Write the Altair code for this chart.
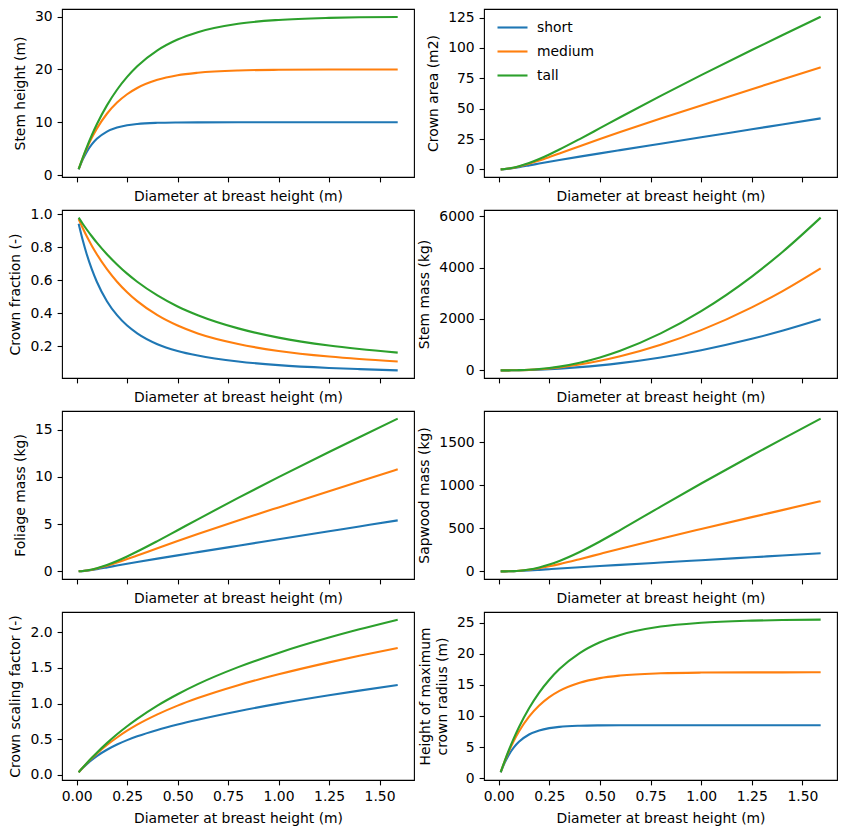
import altair as alt
import pandas as pd

# Diameter at breast height (m) sample points
dbh = [0.01, 0.03, 0.05, 0.075, 0.1, 0.15, 0.2, 0.25, 0.3, 0.4, 0.5, 0.6, 0.8, 1.0, 1.25, 1.4, 1.59]
pfts = ["short", "medium", "tall"]
colors = ["#1f77b4", "#ff7f0e", "#2ca02c"]
x_ticks = [0.0, 0.25, 0.5, 0.75, 1.0, 1.25, 1.5]
x_title = "Diameter at breast height (m)"

stem_height_short = [1.095, 2.939, 4.401, 5.810, 6.865, 8.245, 9.017, 9.450, 9.692, 9.903, 9.970, 9.990, 9.999, 10.0, 10.0, 10.0, 10.0]
stem_height_medium = [1.127, 3.194, 5.034, 7.054, 8.802, 11.62, 13.73, 15.31, 16.49, 18.03, 18.90, 19.38, 19.81, 19.94, 19.99, 19.99, 20.0]
stem_height_tall = [1.138, 3.286, 5.274, 7.552, 9.621, 13.20, 16.16, 18.59, 20.60, 23.61, 25.66, 27.05, 28.64, 29.37, 29.76, 29.87, 29.94]

crown_area_short = [0.029, 0.233, 0.582, 1.152, 1.815, 3.269, 4.767, 6.245, 7.686, 10.47, 13.18, 15.85, 21.15, 26.44, 33.04, 37.01, 42.03]
crown_area_medium = [0.030, 0.253, 0.665, 1.399, 2.327, 4.608, 7.259, 10.12, 13.08, 19.07, 24.98, 30.74, 41.89, 52.71, 66.05, 73.98, 84.06]
crown_area_tall = [0.030, 0.261, 0.697, 1.497, 2.543, 5.234, 8.544, 12.29, 16.34, 24.97, 33.92, 42.90, 60.57, 77.64, 98.34, 110.5, 125.8]

crown_fraction_short = [0.944, 0.845, 0.759, 0.668, 0.592, 0.474, 0.389, 0.326, 0.279, 0.213, 0.172, 0.144, 0.108, 0.086, 0.069, 0.062, 0.054]
crown_fraction_medium = [0.972, 0.918, 0.868, 0.811, 0.759, 0.668, 0.592, 0.528, 0.474, 0.389, 0.326, 0.278, 0.214, 0.172, 0.138, 0.123, 0.108]
crown_fraction_tall = [0.981, 0.944, 0.909, 0.868, 0.829, 0.759, 0.697, 0.641, 0.592, 0.509, 0.442, 0.389, 0.309, 0.253, 0.205, 0.184, 0.162]

stem_mass_short = [0.009, 0.208, 0.864, 2.567, 5.392, 14.57, 28.33, 46.39, 68.51, 124.4, 195.8, 282.5, 502.6, 785.4, 1227, 1539, 1986]
stem_mass_medium = [0.009, 0.226, 0.988, 3.116, 6.913, 20.53, 43.13, 75.15, 116.6, 226.6, 371.1, 547.9, 995.7, 1566, 2453, 3077, 3971]
stem_mass_tall = [0.009, 0.232, 1.036, 3.336, 7.556, 23.33, 50.77, 91.25, 145.6, 296.7, 503.8, 764.8, 1440, 2307, 3652, 4598, 5945]

foliage_mass_short = [0.004, 0.030, 0.075, 0.148, 0.233, 0.420, 0.613, 0.803, 0.988, 1.346, 1.694, 2.037, 2.719, 3.399, 4.249, 4.758, 5.404]
foliage_mass_medium = [0.004, 0.033, 0.086, 0.180, 0.299, 0.592, 0.933, 1.301, 1.681, 2.451, 3.212, 3.952, 5.386, 6.777, 8.493, 9.512, 10.81]
foliage_mass_tall = [0.004, 0.034, 0.090, 0.193, 0.327, 0.673, 1.099, 1.580, 2.101, 3.210, 4.361, 5.516, 7.787, 9.982, 12.64, 14.21, 16.18]

sapwood_mass_short = [0.009, 0.203, 0.814, 2.284, 4.494, 10.54, 17.74, 25.31, 32.85, 47.45, 61.52, 75.27, 102.5, 129.6, 163.4, 183.8, 209.5]
sapwood_mass_medium = [0.009, 0.224, 0.971, 3.005, 6.511, 18.27, 35.95, 58.41, 84.29, 141.9, 202.5, 262.7, 379.8, 492.1, 629.8, 710.9, 814.6]
sapwood_mass_tall = [0.009, 0.232, 1.027, 3.279, 7.337, 21.97, 46.09, 79.50, 121.4, 225.1, 347.2, 479.0, 751.5, 1020, 1345, 1536, 1773]

crown_scaling_short = [0.033, 0.094, 0.148, 0.209, 0.262, 0.351, 0.424, 0.486, 0.539, 0.629, 0.705, 0.773, 0.893, 0.999, 1.117, 1.182, 1.260]
crown_scaling_medium = [0.034, 0.098, 0.158, 0.230, 0.296, 0.417, 0.523, 0.618, 0.703, 0.848, 0.971, 1.077, 1.258, 1.411, 1.579, 1.671, 1.781]
crown_scaling_tall = [0.034, 0.099, 0.162, 0.238, 0.310, 0.444, 0.568, 0.681, 0.785, 0.971, 1.131, 1.273, 1.512, 1.712, 1.927, 2.043, 2.179]

zmax_short = [0.931, 2.499, 3.742, 4.940, 5.837, 7.011, 7.667, 8.035, 8.241, 8.420, 8.477, 8.494, 8.502, 8.503, 8.503, 8.503, 8.503]
zmax_medium = [0.958, 2.716, 4.280, 5.998, 7.484, 9.880, 11.67, 13.02, 14.02, 15.33, 16.07, 16.48, 16.84, 16.96, 17.00, 17.00, 17.01]
zmax_tall = [0.968, 2.794, 4.484, 6.421, 8.181, 11.22, 13.74, 15.81, 17.52, 20.08, 21.82, 23.00, 24.35, 24.97, 25.30, 25.40, 25.46]

panels = [
    ("Stem height (m)", [stem_height_short, stem_height_medium, stem_height_tall], [-0.35, 31.44], [0, 10, 20, 30], "d"),
    ("Crown area (m2)", [crown_area_short, crown_area_medium, crown_area_tall], [-6.29, 132.13], [0, 25, 50, 75, 100, 125], "d"),
    ("Crown fraction (-)", [crown_fraction_short, crown_fraction_medium, crown_fraction_tall], [0.0079, 1.0273], [0.2, 0.4, 0.6, 0.8, 1.0], ".1f"),
    ("Stem mass (kg)", [stem_mass_short, stem_mass_medium, stem_mass_tall], [-297.2, 6242.0], [0, 2000, 4000, 6000], "d"),
    ("Foliage mass (kg)", [foliage_mass_short, foliage_mass_medium, foliage_mass_tall], [-0.809, 16.99], [0, 5, 10, 15], "d"),
    ("Sapwood mass (kg)", [sapwood_mass_short, sapwood_mass_medium, sapwood_mass_tall], [-88.6, 1861.6], [0, 500, 1000, 1500], "d"),
    ("Crown scaling factor (-)", [crown_scaling_short, crown_scaling_medium, crown_scaling_tall], [-0.0743, 2.2866], [0.0, 0.5, 1.0, 1.5, 2.0], ".1f"),
    (["Height of maximum", "crown radius (m)"], [zmax_short, zmax_medium, zmax_tall], [-0.296, 26.69], [0, 5, 10, 15, 20, 25], "d"),
]

x_domain = [-0.0725, 1.6707]

charts = []
for i, (ytitle, series, ydom, yticks, yfmt) in enumerate(panels):
    rows = []
    for name, vals in zip(pfts, series):
        for d, v in zip(dbh, vals):
            rows.append({"dbh": d, "pft": name, "value": v})
    df = pd.DataFrame(rows)
    bottom = i >= 6
    if i == 1:
        legend = alt.Legend(
            title=None, orient="none", legendX=12, legendY=2, padding=0,
            symbolType="stroke", symbolSize=900, symbolStrokeWidth=2.1,
            labelFont="DejaVu Sans", labelFontSize=13.9, labelColor="black",
            labelOffset=8, rowPadding=-11.5,
        )
        color = alt.Color("pft:N", scale=alt.Scale(domain=pfts, range=colors), legend=legend)
    else:
        color = alt.Color("pft:N", scale=alt.Scale(domain=pfts, range=colors), legend=None)
    c = alt.Chart(df).mark_line(strokeWidth=2.1, interpolate="monotone", clip=True).encode(
        x=alt.X("dbh:Q", scale=alt.Scale(domain=x_domain, nice=False, zero=False),
                axis=alt.Axis(values=x_ticks, format=".2f", labels=bottom, title=x_title, labelFlush=False)),
        y=alt.Y("value:Q", scale=alt.Scale(domain=ydom, nice=False, zero=False),
                axis=alt.Axis(values=yticks, format=yfmt, title=ytitle)),
        color=color,
    ).properties(width=352 if i % 2 == 0 else 353, height=168)
    charts.append(c)

chart = alt.concat(
    *charts, columns=2, spacing={"row": 33, "column": 70}, bounds="flush"
).resolve_scale(color="independent").resolve_legend(color="independent").configure_view(
    stroke="black", strokeWidth=1.1
).configure_axis(
    domain=False, grid=False, tickColor="black", tickSize=4.9, tickWidth=1.1,
    labelFont="DejaVu Sans", labelFontSize=13.9, labelColor="black", labelPadding=4.9,
    titleFont="DejaVu Sans", titleFontSize=13.9, titleFontWeight="normal", titleColor="black",
    titlePadding=7.5, titleLineHeight=16.5,
).properties(padding={"left": 8, "top": 8, "right": 5, "bottom": 5}, background="white")

chart.save("out.html", embed_options={"renderer": "svg", "actions": False})
